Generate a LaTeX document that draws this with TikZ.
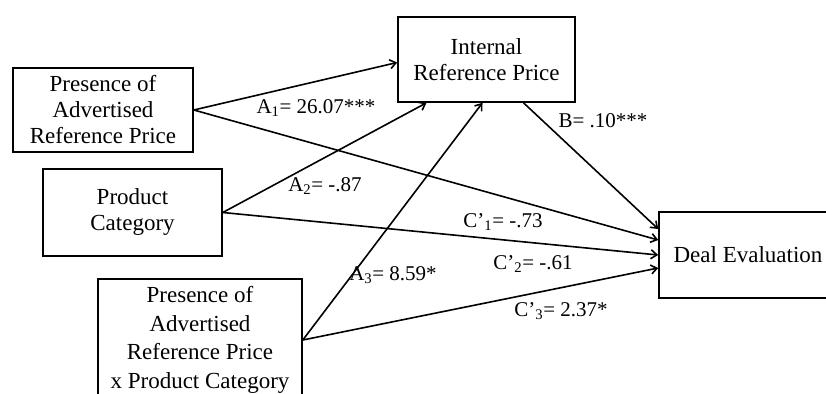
\documentclass[tikz,border=0pt]{standalone}
\usepackage{fontspec}
\setmainfont{Liberation Serif}
\usetikzlibrary{arrows.meta}
\begin{document}
\begin{tikzpicture}[>={Straight Barb[length=6pt,width=9pt]},x=1pt,y=-1pt,
box/.style={draw,line width=1.6pt,align=center,inner sep=0pt,font=\fontsize{23}{26}\selectfont},
lbl/.style={font=\fontsize{21}{24}\selectfont},
path/.style={->,line width=1.6pt}]
\useasboundingbox(0,0)rectangle(826,393);
\node[box,minimum width=180pt,minimum height=84pt](adv)at(103,110){Presence of\\Advertised\\Reference Price};
\node[box,minimum width=179pt,minimum height=87pt](cat)at(132.5,212.5){Product\\Category};
\node[box,minimum width=204pt,minimum height=122pt,font=\fontsize{23}{28.5}\selectfont](inter)at(200,340){Presence of\\Advertised\\Reference Price\\x Product Category};
\node[box,minimum width=177pt,minimum height=85pt](irp)at(486.5,59.5){Internal\\Reference Price};
\node[box,minimum width=178pt,minimum height=86pt](deal)at(748,255){Deal Evaluation};

\draw[path](adv.east)--([yshift=-3pt]irp.west);
\draw[path](adv.east)--([yshift=15pt]deal.west);
\draw[path](cat.east)--([xshift=-60pt]irp.south);
\draw[path](cat.east)--(deal.west);
\draw[path](inter.east)--([xshift=-4pt]irp.south);
\draw[path](inter.east)--([yshift=-13pt]deal.west);
\draw[path]([xshift=37pt]irp.south)--([yshift=26pt]deal.west);

\node[lbl](a1)at(316,108){A\textsubscript{1}= 26.07***};
\node[lbl](a2)at(325,186){A\textsubscript{2}= -.87};
\node[lbl](a3)at(393,275){A\textsubscript{3}= 8.59*};
\node[lbl](b)at(603,121){B= .10***};
\node[lbl](c1)at(503,222){C'\textsubscript{1}= -.73};
\node[lbl](c2)at(533,264){C'\textsubscript{2}= -.61};
\node[lbl](c3)at(561,311){C'\textsubscript{3}= 2.37*};

\end{tikzpicture}
\end{document}
